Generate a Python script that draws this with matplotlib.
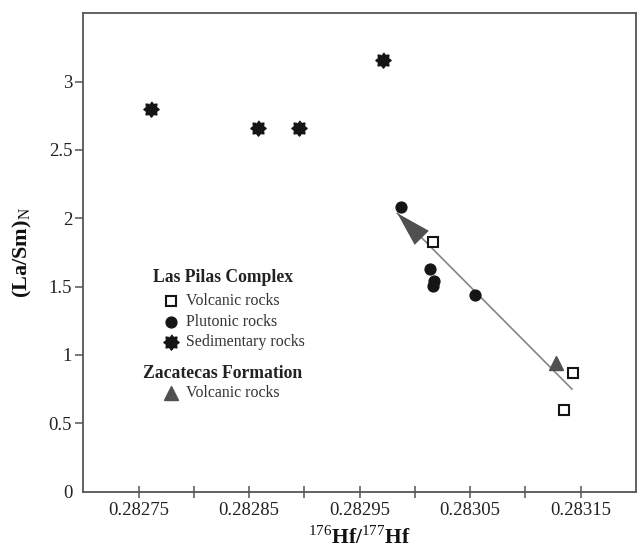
import numpy as np
import matplotlib
matplotlib.use("Agg")
import matplotlib.pyplot as plt
from matplotlib.path import Path

plt.rcParams['font.family'] = ['Liberation Serif', 'DejaVu Serif']
plt.rcParams['mathtext.fontset'] = 'custom'
plt.rcParams['mathtext.rm'] = 'Liberation Serif'
plt.rcParams['mathtext.bf'] = 'Liberation Serif:bold'

# Las Pilas Complex
sed_hf = [0.282761, 0.282858, 0.282895, 0.282971]
sed_la = [2.80, 2.663, 2.663, 3.159]

plu_hf = [0.282987, 0.283014, 0.283017, 0.283016, 0.283054]
plu_la = [2.085, 1.629, 1.541, 1.507, 1.439]

vol_hf = [0.283016, 0.283143, 0.283135]
vol_la = [1.826, 0.865, 0.599]

# Zacatecas Formation
zac_hf = [0.283128]
zac_la = [0.943]

# trend arrow (tail, head)
arrow_hf = [0.283142, 0.282984]
arrow_la = [0.750, 2.037]

xticks = [0.28275, 0.2828, 0.28285, 0.2829, 0.28295, 0.283, 0.28305, 0.2831, 0.28315]
xticklabels = ['0.28275', '', '0.28285', '', '0.28295', '', '0.28305', '', '0.28315']
yticks = [0, 0.5, 1, 1.5, 2, 2.5, 3]
yticklabels = ['0', '0.5', '1', '1.5', '2', '2.5', '3']

# cog-like asterisk marker
ang = np.linspace(0, 2 * np.pi, 17)[:-1]
rad = np.where(np.arange(16) % 2 == 0, 1.0, 0.7)
star = Path(np.column_stack([rad * np.sin(ang), rad * np.cos(ang)]))

fig = plt.figure(figsize=(6.37, 5.52), dpi=100)
ax = fig.add_axes([0.1308, 0.1096, 0.8677, 0.8663])

gray = '#555555'
for s in ax.spines.values():
    s.set_color(gray)
    s.set_linewidth(1.3)

# trend line + arrow head
ax.plot(arrow_hf, arrow_la, color='#858585', lw=1.2, zorder=1)
ax.annotate('', xy=(arrow_hf[1], arrow_la[1]), xytext=(arrow_hf[0], arrow_la[0]),
            arrowprops=dict(arrowstyle='-|>,head_length=1.25,head_width=0.36',
                            color='#505050', lw=0, mutation_scale=20,
                            shrinkA=0, shrinkB=0), zorder=2)

ax.plot(sed_hf, sed_la, ls='none', marker=star, ms=11, color='#151515', zorder=3)
ax.plot(plu_hf, plu_la, ls='none', marker='o', ms=7.8, color='#151515', zorder=3)
ax.plot(vol_hf, vol_la, ls='none', marker='s', ms=6.8, mfc='white', mec='#151515',
        mew=1.5, zorder=3)
ax.plot(zac_hf, zac_la, ls='none', marker='^', ms=9.5, color='#505050', zorder=3)

ax.set_xlim(0.2827, 0.2832)
ax.set_ylim(0, 3.5)
ax.set_xticks(xticks)
ax.set_xticklabels(xticklabels)
ax.set_yticks(yticks)
ax.set_yticklabels(yticklabels)
ax.tick_params(axis='x', direction='inout', length=9, width=1.1, color=gray,
               labelsize=13.5, pad=3, labelcolor='#222222')
ax.tick_params(axis='y', direction='out', length=6, width=1.1, color=gray,
               labelsize=13.5, pad=2, labelcolor='#222222')
ax.yaxis.get_major_ticks()[0].tick1line.set_visible(False)

ax.set_xlabel(r'$^{176}$Hf/$^{177}$Hf', fontsize=15.5, fontweight='bold', color='#111111')
ax.xaxis.set_label_coords(0.5, -0.072)
ax.set_ylabel(r'(La/Sm)$_\mathrm{N}$', fontsize=16, fontweight='bold', color='#111111')
ax.yaxis.set_label_coords(-0.09, 0.5)

# legend
tr = ax.transAxes
ax.text(0.2524, 0.4479, 'Las Pilas Complex', transform=tr, ha='center', va='center',
        fontsize=12.7, fontweight='bold', color='#222222')
ax.text(0.2524, 0.2478, 'Zacatecas Formation', transform=tr, ha='center', va='center',
        fontsize=12.7, fontweight='bold', color='#222222')
entries = [
    (0.3984, dict(marker='s', ms=6.8, mfc='white', mec='#151515', mew=1.5), 'Volcanic rocks'),
    (0.3555, dict(marker='o', ms=7.8, color='#151515'), 'Plutonic rocks'),
    (0.3126, dict(marker=star, ms=11, color='#151515'), 'Sedimentary rocks'),
    (0.206, dict(marker='^', ms=9.5, color='#505050'), 'Volcanic rocks'),
]
for yy, mk, lab in entries:
    ax.plot([0.1587], [yy], ls='none', transform=tr, **mk)
    ax.text(0.1858, yy, lab, transform=tr, ha='left', va='center', fontsize=11.4,
            color='#333333')

fig.savefig('out.png', dpi=100)
